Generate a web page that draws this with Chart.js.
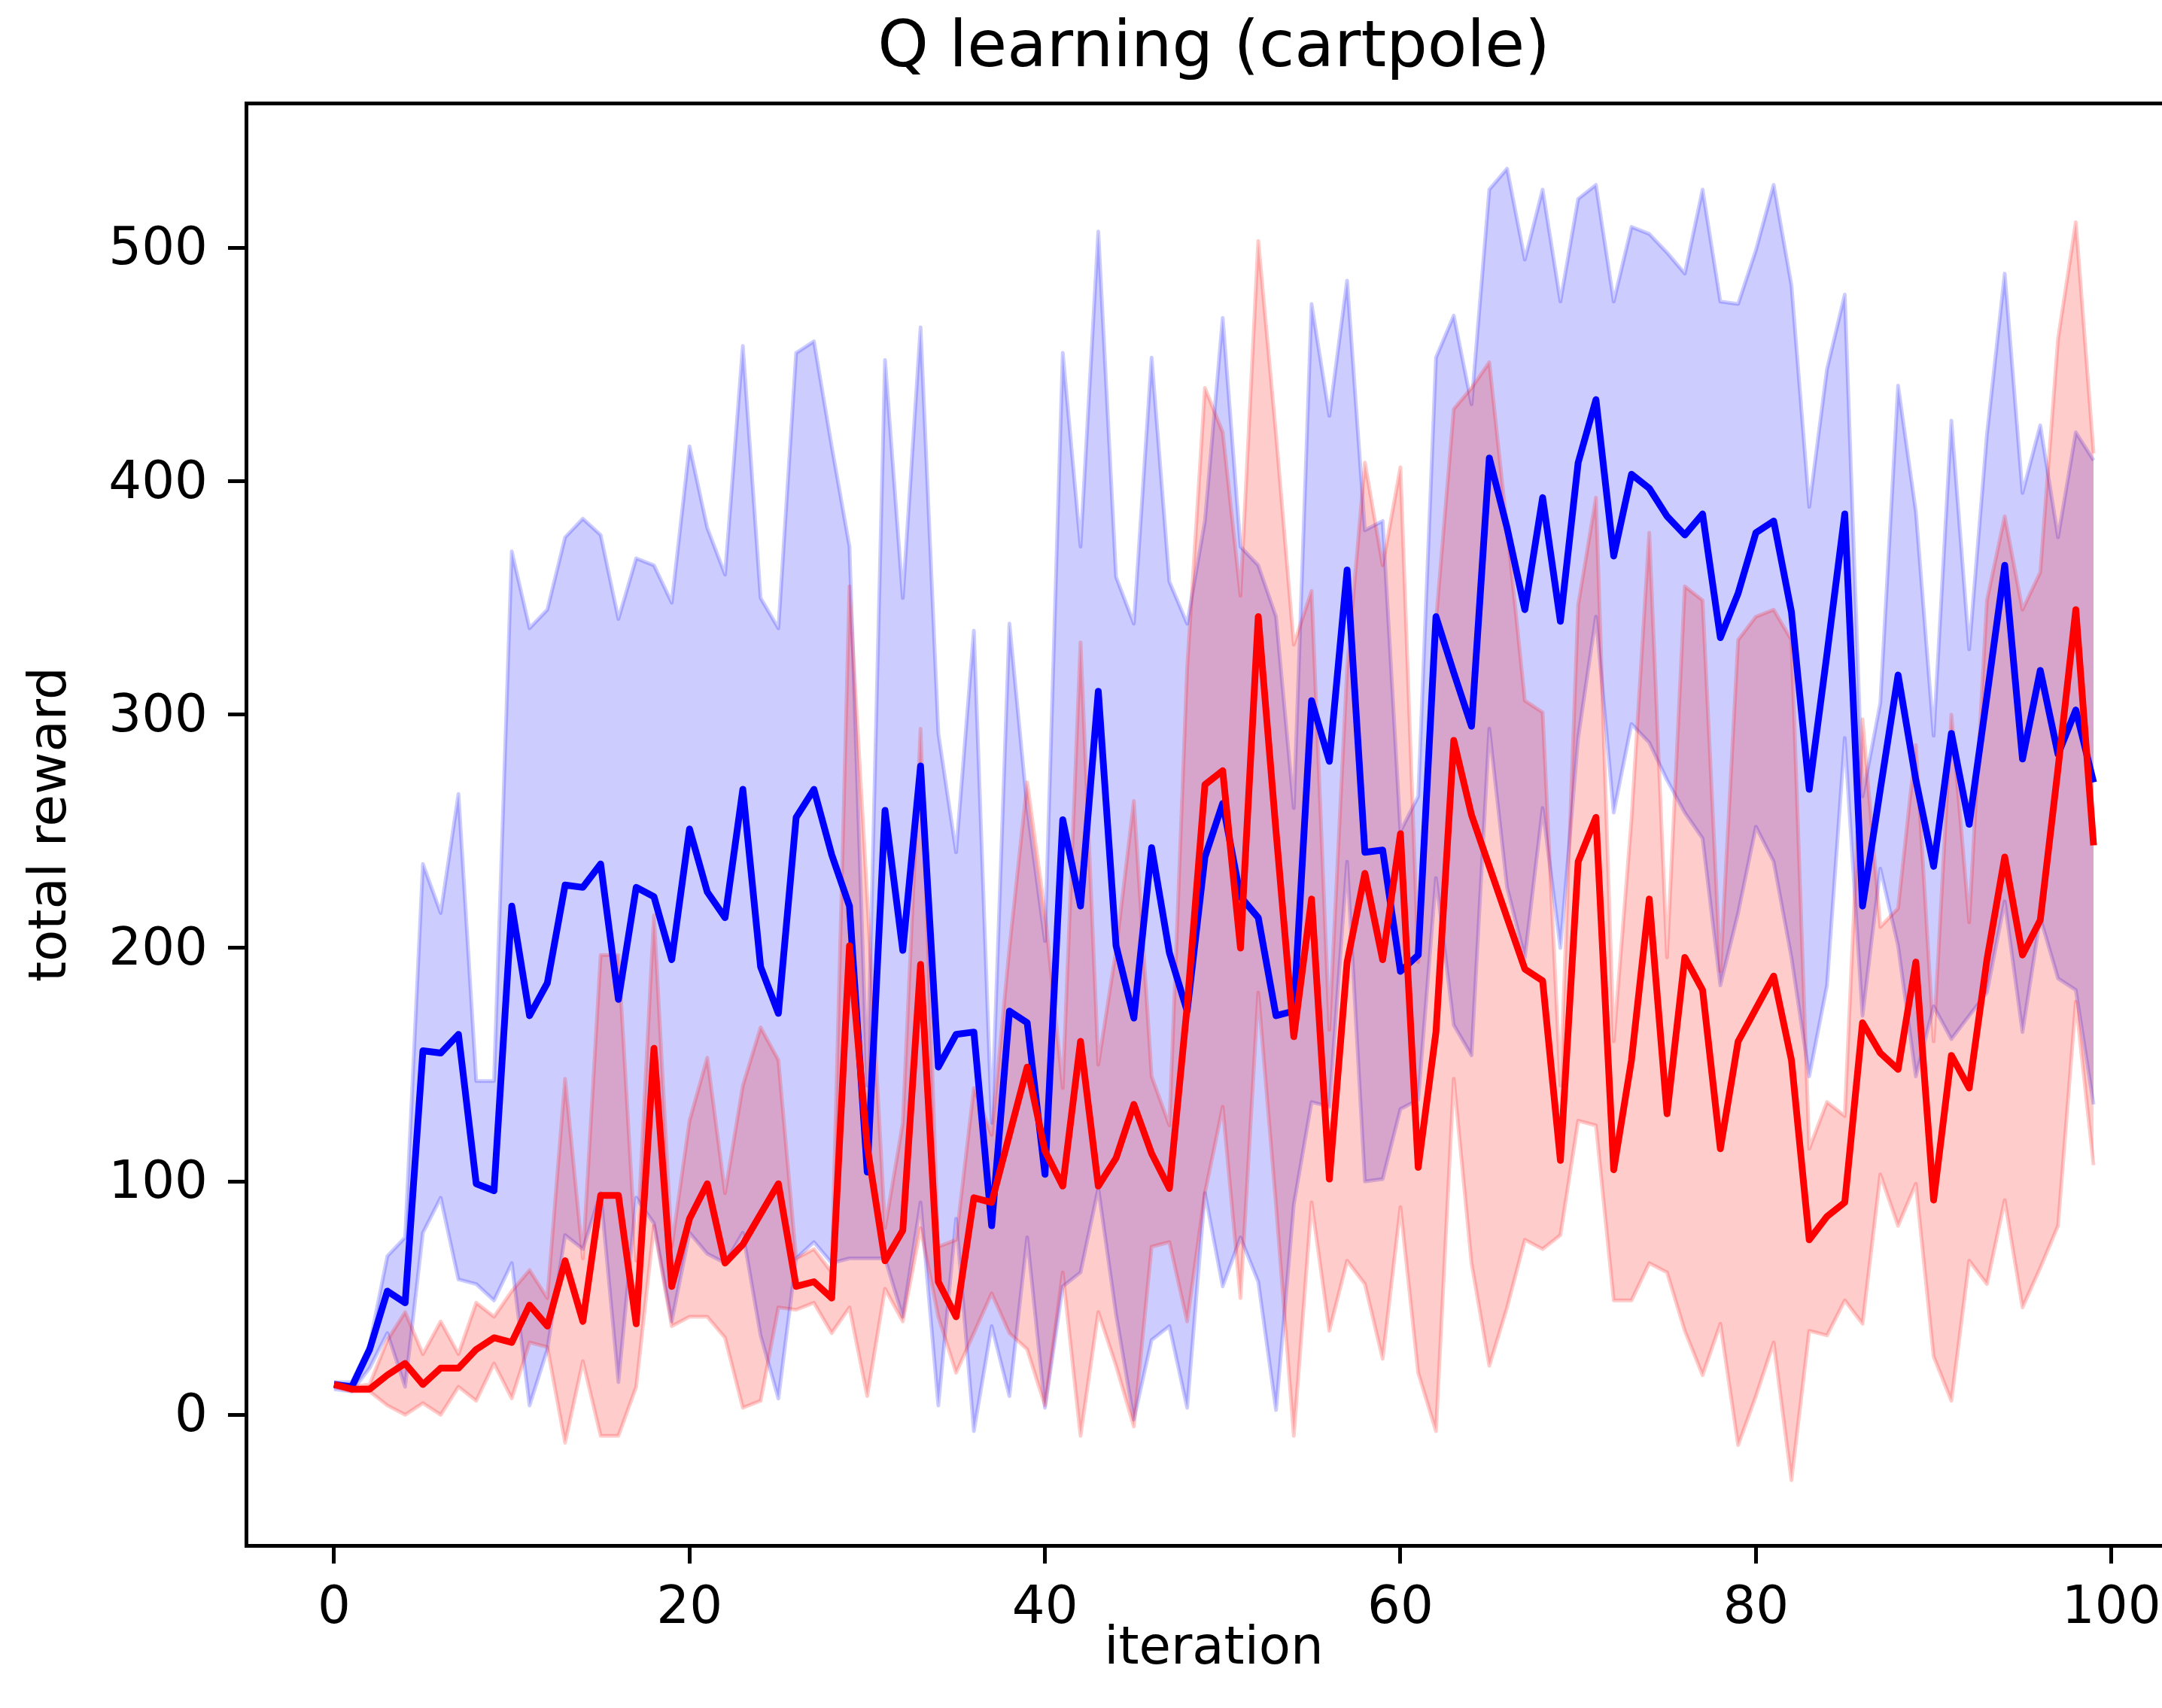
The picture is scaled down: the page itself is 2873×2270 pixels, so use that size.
<!DOCTYPE html>
<html>
<head>
<meta charset="utf-8">
<script src="https://cdn.jsdelivr.net/npm/chart.js@4.4.1/dist/chart.umd.min.js"></script>
<style>
html,body{margin:0;padding:0;background:#fff;overflow:hidden;width:2873px;height:2270px}
canvas{display:block}
</style>
</head>
<body>
<canvas id="c" width="3226" height="2270" style="width:3226px;height:2270px"></canvas>
<script>
// ---- data ----
const titleText = 'Q learning (cartpole)';
const xLabel = 'iteration';
const yLabel = 'total reward';
const xTicks = [0, 20, 40, 60, 80, 100];
const yTicks = [0, 100, 200, 300, 400, 500];
const iterations = Array.from({length: 100}, (_, i) => i);

const blueMean = [13,12,28,53,48,156,155,163,99,96,
  218,171,185,227,226,236,178,226,222,195,
  251,224,213,268,192,172,256,268,240,218,
  104,259,199,278,149,163,164,81,173,168,
  103,255,218,310,201,170,243,198,173,239,
  262,222,213,171,173,306,280,362,241,242,
  190,197,342,318,295,410,380,345,393,340,
  408,435,368,403,397,385,377,386,333,352,
  378,383,344,268,326,386,218,268,317,272,
  235,292,253,308,364,281,319,283,302,271];
const blueUpper = [14,14,30,68,76,236,215,266,143,143,
  370,337,345,376,384,377,341,367,364,348,
  415,380,360,458,350,337,455,460,415,372,
  141,452,350,466,292,241,336,125,339,260,
  203,455,372,507,359,339,453,357,339,383,
  470,372,364,342,260,476,428,486,379,383,
  250,265,453,471,433,525,534,495,525,477,
  521,527,477,509,506,498,489,525,477,476,
  499,527,484,389,448,480,265,305,441,387,
  291,426,328,420,489,395,424,376,421,409];
const blueLower = [11,10,20,35,12,78,93,58,56,49,
  65,4,28,77,71,95,14,93,82,40,
  78,69,65,78,34,7,67,74,65,67,
  67,67,42,91,4,84,-7,38,8,76,
  3,55,61,97,43,-2,32,38,3,95,
  55,76,57,2,90,134,132,237,100,101,
  131,135,230,167,154,294,226,196,260,200,
  290,342,258,296,288,272,258,247,184,215,
  252,237,196,145,184,290,171,234,201,145,
  175,161,171,181,220,164,213,187,182,133];
const redMean = [13,11,11,17,22,13,20,20,28,33,
  31,47,38,66,40,94,94,39,157,55,
  84,99,65,73,86,99,55,57,50,201,
  115,66,79,193,57,42,93,91,120,149,
  113,98,160,98,110,133,112,97,175,270,
  276,200,342,250,162,221,101,194,232,195,
  249,106,164,289,257,235,213,191,186,109,
  237,256,105,152,221,129,196,182,114,160,
  174,188,152,75,85,91,168,155,148,194,
  92,154,140,195,239,197,212,277,345,244];
const redUpper = [14,12,13,32,44,26,40,26,48,42,
  53,62,50,144,67,197,197,66,214,72,
  126,153,95,141,166,152,67,71,61,355,
  222,80,125,294,72,75,140,120,200,271,
  215,140,331,150,199,263,145,124,320,440,
  421,351,503,420,330,353,165,320,408,364,
  406,194,340,431,440,451,380,306,301,141,
  347,393,160,255,378,196,355,349,190,332,
  342,345,332,114,134,128,298,209,217,287,
  160,300,211,349,385,345,361,461,511,412];
const redLower = [12,10,10,4,0,5,0,12,6,22,
  7,31,29,-12,23,-9,-9,12,81,38,
  42,42,33,3,6,46,45,48,35,46,
  8,54,40,80,42,18,35,52,35,28,
  4,61,-9,44,21,-5,72,74,40,95,
  132,50,181,90,-9,91,36,66,56,24,
  89,18,-7,144,65,21,46,75,71,77,
  126,124,49,49,65,61,36,17,39,-13,
  8,31,-28,36,34,49,39,103,81,99,
  25,6,66,56,92,46,63,81,177,107];

// ---- chart ----
const FONT = "'DejaVu Sans', 'Liberation Sans', sans-serif";
Chart.defaults.font.family = FONT;
Chart.defaults.color = '#000';

const pts = arr => iterations.map((x, i) => ({x: x, y: arr[i]}));
const bandStyle = (rgba) => ({
  borderColor: rgba, backgroundColor: rgba, borderWidth: 5,
  pointRadius: 0, tension: 0, borderJoinStyle: 'round'
});
const lineStyle = (c) => ({
  borderColor: c, backgroundColor: c, borderWidth: 9, fill: false,
  pointRadius: 0, tension: 0, borderJoinStyle: 'round', borderCapStyle: 'butt'
});

const X_MIN = -4.95, X_MAX = 103.95, Y_MIN = -56, Y_MAX = 562;

new Chart(document.getElementById('c'), {
  type: 'line',
  data: {
    datasets: [
      Object.assign({label: 'blue upper', data: pts(blueUpper), fill: '+1', order: 4}, bandStyle('rgba(0,0,255,0.2)')),
      Object.assign({label: 'blue lower', data: pts(blueLower), fill: false, order: 4}, bandStyle('rgba(0,0,255,0.2)')),
      Object.assign({label: 'red upper', data: pts(redUpper), fill: '+1', order: 3}, bandStyle('rgba(255,0,0,0.2)')),
      Object.assign({label: 'red lower', data: pts(redLower), fill: false, order: 3}, bandStyle('rgba(255,0,0,0.2)')),
      Object.assign({label: 'blue', data: pts(blueMean), order: 2}, lineStyle('#0000ff')),
      Object.assign({label: 'red', data: pts(redMean), order: 1}, lineStyle('#ff0000'))
    ]
  },
  options: {
    responsive: false,
    animation: false,
    devicePixelRatio: 1,
    layout: {padding: 0},
    plugins: {
      legend: {display: false},
      tooltip: {enabled: false},
      title: {
        display: true, text: titleText, color: '#000',
        font: {family: FONT, size: 86, weight: 'normal', lineHeight: 1.2},
        padding: {top: 14, bottom: 20}
      }
    },
    scales: {
      x: {
        type: 'linear', position: 'bottom', min: X_MIN, max: X_MAX,
        afterBuildTicks: s => { s.ticks = xTicks.map(v => ({value: v})); },
        afterFit: s => { s.height = 216; },
        ticks: {color: '#000', font: {family: FONT, size: 69}, padding: 20, autoSkip: false, maxRotation: 0,
                callback: v => String(v)},
        grid: {display: true, drawOnChartArea: false, drawTicks: true, tickLength: 24, tickWidth: 5, tickColor: '#000'},
        border: {display: true, color: '#000', width: 5},
        title: {display: true, text: xLabel, color: '#000', font: {family: FONT, size: 69, lineHeight: 1.2},
                padding: {top: 0, bottom: 36}}
      },
      y: {
        type: 'linear', position: 'left', min: Y_MIN, max: Y_MAX,
        afterBuildTicks: s => { s.ticks = yTicks.map(v => ({value: v})); },
        afterFit: s => { s.width = 327; },
        ticks: {color: '#000', font: {family: FONT, size: 69}, padding: 27, autoSkip: false, labelOffset: 4,
                callback: v => String(v)},
        grid: {display: true, drawOnChartArea: false, drawTicks: true, tickLength: 24, tickWidth: 5, tickColor: '#000'},
        border: {display: true, color: '#000', width: 5},
        title: {display: true, text: yLabel, color: '#000', font: {family: FONT, size: 69, lineHeight: 1.2},
                padding: {top: 28, bottom: 0}}
      },
      x2: {
        type: 'linear', position: 'top', min: X_MIN, max: X_MAX,
        afterFit: s => { s.height = 0; },
        ticks: {display: false},
        grid: {display: false},
        border: {display: true, color: '#000', width: 5}
      },
      y2: {
        type: 'linear', position: 'right', min: Y_MIN, max: Y_MAX,
        afterFit: s => { s.width = 327; },
        ticks: {display: false},
        grid: {display: false},
        border: {display: true, color: '#000', width: 5}
      }
    }
  }
});
</script>
</body>
</html>
